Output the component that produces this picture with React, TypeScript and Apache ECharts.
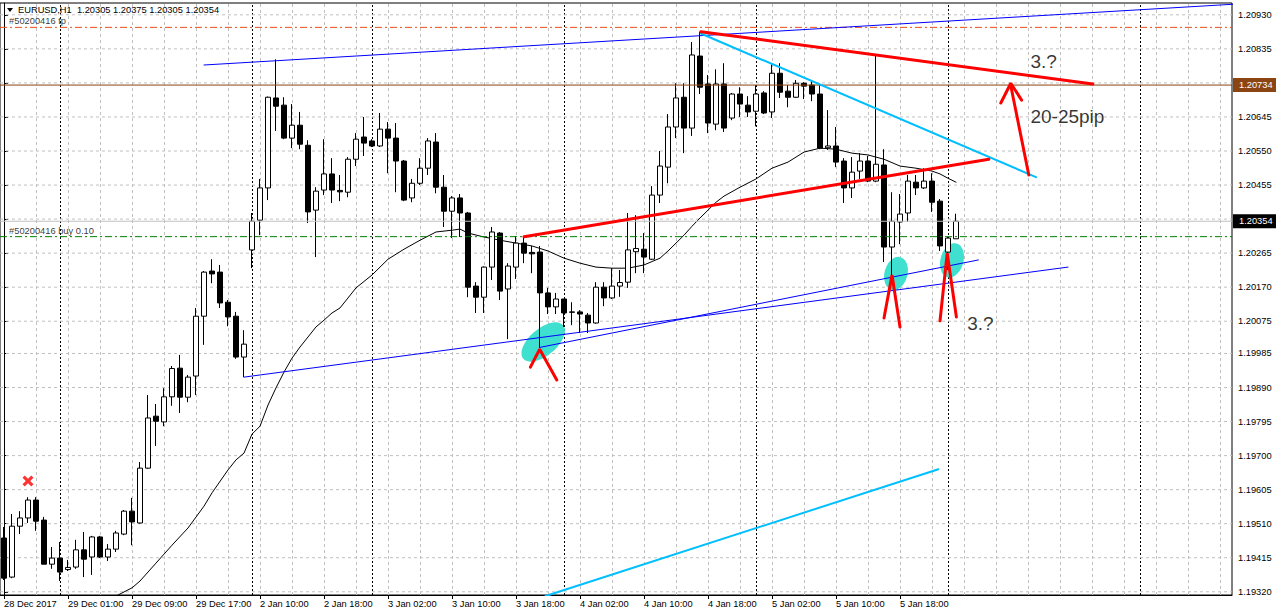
import React, { useEffect, useRef } from 'react';
import * as echarts from 'echarts';

// ---------- time categories (H1 bars) ----------
const SESSIONS = [
  { day: 28, mon: 'Dec', from: 17, to: 23 },
  { day: 29, mon: 'Dec', from: 0, to: 23 },
  { day: 2, mon: 'Jan', from: 9, to: 23 },
  { day: 3, mon: 'Jan', from: 0, to: 23 },
  { day: 4, mon: 'Jan', from: 0, to: 23 },
  { day: 5, mon: 'Jan', from: 0, to: 23 },
  { day: 6, mon: 'Jan', from: 0, to: 23 },
  { day: 7, mon: 'Jan', from: 0, to: 23 },
];
const BAR_COUNT = 154;
const FIRST_LABEL = '28 Dec 2017';
const LAST_LABELED_BAR = 112;

// ---------- price axis ----------
const TICK_LABELS = ['1.19320', '1.19415', '1.19510', '1.19605', '1.19700', '1.19795', '1.19890', '1.19985', '1.20075', '1.20170', '1.20265', '1.20360', '1.20455', '1.20550', '1.20645', '1.20740', '1.20835', '1.20930'];
const Y_MIN = 1.19311;
const Y_MAX = 1.20963;

// ---------- OHLC ----------
const OPEN = [1.19470, 1.19361, 1.19503, 1.19526, 1.19576, 1.19520, 1.19397, 1.19414, 1.19382, 1.19389, 1.19437, 1.19417, 1.19473, 1.19417, 1.19439, 1.19481, 1.19545, 1.19512, 1.19665, 1.19810, 1.19794, 1.19864, 1.19944, 1.19863, 1.19922, 1.20089, 1.20215, 1.20212, 1.20128, 1.20089, 1.19975, 1.20274, 1.20357, 1.20447, 1.20698, 1.20678, 1.20586, 1.20622, 1.20566, 1.20385, 1.20441, 1.20486, 1.20440, 1.20435, 1.20527, 1.20589, 1.20578, 1.20564, 1.20611, 1.20586, 1.20522, 1.20419, 1.20460, 1.20502, 1.20575, 1.20449, 1.20382, 1.20419, 1.20377, 1.20173, 1.20142, 1.20226, 1.20321, 1.20165, 1.20226, 1.20293, 1.20267, 1.20268, 1.20154, 1.20115, 1.20137, 1.20101, 1.20101, 1.20092, 1.20070, 1.20170, 1.20140, 1.20173, 1.20184, 1.20269, 1.20276, 1.20248, 1.20427, 1.20505, 1.20617, 1.20700, 1.20614, 1.20815, 1.20737, 1.20625, 1.20737, 1.20642, 1.20709, 1.20678, 1.20661, 1.20712, 1.20659, 1.20767, 1.20717, 1.20700, 1.20739, 1.20734, 1.20709, 1.20559, 1.20564, 1.20522, 1.20447, 1.20494, 1.20522, 1.20466, 1.20511, 1.20282, 1.20352, 1.20377, 1.20463, 1.20447, 1.20466, 1.20410, 1.20268, 1.20305];
const HIGH = [1.19501, 1.19537, 1.19545, 1.19584, 1.19584, 1.19529, 1.19445, 1.19459, 1.19409, 1.19465, 1.19487, 1.19476, 1.19476, 1.19453, 1.19490, 1.19548, 1.19582, 1.19682, 1.19869, 1.19844, 1.19888, 1.19950, 1.19981, 1.19925, 1.20112, 1.20215, 1.20248, 1.20232, 1.20134, 1.20101, 1.20050, 1.20377, 1.20472, 1.20702, 1.20806, 1.20700, 1.20681, 1.20659, 1.20580, 1.20449, 1.20583, 1.20530, 1.20483, 1.20533, 1.20600, 1.20645, 1.20583, 1.20656, 1.20631, 1.20628, 1.20525, 1.20472, 1.20530, 1.20586, 1.20600, 1.20483, 1.20424, 1.20430, 1.20380, 1.20184, 1.20228, 1.20338, 1.20324, 1.20237, 1.20313, 1.20310, 1.20285, 1.20285, 1.20168, 1.20154, 1.20137, 1.20128, 1.20106, 1.20098, 1.20184, 1.20184, 1.20223, 1.20218, 1.20377, 1.20371, 1.20321, 1.20452, 1.20550, 1.20653, 1.20739, 1.20739, 1.20854, 1.20882, 1.20762, 1.20778, 1.20795, 1.20712, 1.20728, 1.20703, 1.20734, 1.20717, 1.20792, 1.20795, 1.20734, 1.20748, 1.20742, 1.20748, 1.20737, 1.20664, 1.20617, 1.20530, 1.20533, 1.20544, 1.20536, 1.20818, 1.20555, 1.20435, 1.20430, 1.20483, 1.20483, 1.20502, 1.20488, 1.20416, 1.20310, 1.20375];
const LOW = [1.19353, 1.19358, 1.19481, 1.19512, 1.19490, 1.19397, 1.19384, 1.19350, 1.19378, 1.19384, 1.19361, 1.19367, 1.19414, 1.19406, 1.19431, 1.19478, 1.19450, 1.19510, 1.19663, 1.19727, 1.19782, 1.19839, 1.19819, 1.19849, 1.19869, 1.20009, 1.20181, 1.20112, 1.20061, 1.19970, 1.19919, 1.20223, 1.20315, 1.20413, 1.20606, 1.20583, 1.20558, 1.20555, 1.20349, 1.20254, 1.20427, 1.20405, 1.20410, 1.20421, 1.20508, 1.20536, 1.20561, 1.20561, 1.20488, 1.20435, 1.20410, 1.20407, 1.20455, 1.20483, 1.20432, 1.20338, 1.20307, 1.20310, 1.20142, 1.20098, 1.20098, 1.20190, 1.20134, 1.20025, 1.20193, 1.20237, 1.20209, 1.20000, 1.20095, 1.20095, 1.20059, 1.20064, 1.20042, 1.20042, 1.20068, 1.20117, 1.20137, 1.20143, 1.20168, 1.20209, 1.20209, 1.20246, 1.20405, 1.20460, 1.20586, 1.20544, 1.20592, 1.20709, 1.20600, 1.20608, 1.20603, 1.20636, 1.20645, 1.20645, 1.20619, 1.20653, 1.20642, 1.20698, 1.20672, 1.20698, 1.20695, 1.20689, 1.20555, 1.20553, 1.20505, 1.20405, 1.20419, 1.20472, 1.20463, 1.20463, 1.20240, 1.20181, 1.20290, 1.20352, 1.20427, 1.20444, 1.20380, 1.20271, 1.20218, 1.20305];
const CLOSE = [1.19358, 1.19503, 1.19526, 1.19576, 1.19517, 1.19397, 1.19414, 1.19375, 1.19388, 1.19437, 1.19411, 1.19473, 1.19417, 1.19439, 1.19484, 1.19545, 1.19515, 1.19665, 1.19805, 1.19796, 1.19864, 1.19943, 1.19863, 1.19919, 1.20089, 1.20212, 1.20207, 1.20126, 1.20087, 1.19975, 1.20011, 1.20354, 1.20447, 1.20700, 1.20675, 1.20586, 1.20622, 1.20569, 1.20380, 1.20438, 1.20486, 1.20441, 1.20436, 1.20527, 1.20583, 1.20572, 1.20564, 1.20611, 1.20586, 1.20522, 1.20413, 1.20460, 1.20502, 1.20578, 1.20449, 1.20382, 1.20419, 1.20377, 1.20170, 1.20142, 1.20226, 1.20324, 1.20159, 1.20229, 1.20293, 1.20265, 1.20263, 1.20154, 1.20115, 1.20137, 1.20098, 1.20100, 1.20095, 1.20070, 1.20170, 1.20140, 1.20173, 1.20183, 1.20274, 1.20278, 1.20254, 1.20427, 1.20508, 1.20617, 1.20698, 1.20614, 1.20818, 1.20728, 1.20628, 1.20737, 1.20614, 1.20709, 1.20681, 1.20659, 1.20709, 1.20656, 1.20767, 1.20714, 1.20700, 1.20739, 1.20731, 1.20709, 1.20558, 1.20564, 1.20519, 1.20447, 1.20491, 1.20522, 1.20466, 1.20513, 1.20282, 1.20354, 1.20374, 1.20466, 1.20447, 1.20466, 1.20407, 1.20285, 1.20307, 1.20354];

// moving average readings [bar, price]
const MA_POINTS = [[13, 1.19294], [14, 1.19308], [16, 1.19331], [17, 1.19350], [19, 1.19400], [21, 1.19450], [23, 1.19498], [25, 1.19559], [26, 1.19596], [28, 1.19660], [29, 1.19688], [30, 1.19707], [31, 1.19760], [32, 1.19782], [33, 1.19841], [34, 1.19889], [35, 1.19933], [36, 1.19972], [37, 1.20003], [38, 1.20031], [39, 1.20059], [40, 1.20078], [41, 1.20098], [42, 1.20112], [44, 1.20168], [46, 1.20204], [48, 1.20248], [50, 1.20276], [52, 1.20301], [54, 1.20324], [56, 1.20329], [57, 1.20332], [58, 1.20321], [60, 1.20310], [62, 1.20301], [64, 1.20293], [66, 1.20285], [68, 1.20271], [70, 1.20251], [72, 1.20237], [74, 1.20226], [76, 1.20223], [78, 1.20223], [80, 1.20232], [82, 1.20251], [83, 1.20271], [84, 1.20293], [85, 1.20315], [86, 1.20340], [87, 1.20363], [88, 1.20385], [89, 1.20407], [90, 1.20424], [92, 1.20449], [94, 1.20472], [96, 1.20502], [98, 1.20519], [100, 1.20547], [102, 1.20558], [104, 1.20555], [106, 1.20544], [108, 1.20539], [110, 1.20527], [112, 1.20508], [114, 1.20502], [116, 1.20494], [117, 1.20486], [118, 1.20474], [119, 1.20463]];

// horizontal price levels
const TP_LEVEL = 1.20895;
const LEVEL_LINE = 1.20734;
const BID_LEVEL = 1.20354;
const BUY_LEVEL = 1.20311;
const TP_TEXT = '#50200416 tp';
const BUY_TEXT = '#50200416 buy 0.10';
const TITLE_TEXT = 'EURUSD,H1  1.20305 1.20375 1.20305 1.20354';

// drawn objects, [bar, price]
const BLUE_TOP = [[25, 1.20790], [154, 1.20960]];
const BLUE_A = [[30, 1.19919], [133, 1.20226]];
const BLUE_B = [[67, 1.20002], [121.8, 1.20246]];
const RED_LOW = [[65, 1.20311], [123.1, 1.20527]];
const RED_HIGH = [[87.1, 1.20883], [136.1, 1.20737]];
const CYAN_HIGH = [[87.1, 1.20878], [129, 1.20477]];
const CYAN_LOW = [[67.7, 1.19308], [116.8, 1.19662]];
const ARROW_SHAFT = [[128.1, 1.20483], [125.85, 1.20732]];
const ARROW_HEAD = [[124.6, 1.20684], [125.85, 1.20739], [127.2, 1.20692]];
const CHEVRONS = [
  [[65.8, 1.19947], [66.96, 1.19997], [69.1, 1.19911]],
  [[110, 1.20084], [111.0, 1.20204], [112, 1.20059]],
  [[117.0, 1.20076], [117.9, 1.20265], [119.05, 1.20087]],
];
const ELLIPSE_CENTERS = [[67.4, 1.20017], [111.5, 1.20208], [118.5, 1.20245]];
const CROSS_POINT = [3, 1.19629];
const NOTE_POINTS = [[128.3, 1.20799], [128.3, 1.20646], [120.4, 1.20070]];
const NOTE_TEXTS = ['3.?', '20-25pip', '3.?'];

// styles (kept out of data)
const ELLIPSE_SIZES = [[52, 27], [23, 34], [23, 35]];
const ELLIPSE_ROTATE = [40, -15, -15];
const FONT = "'Liberation Sans', Arial, sans-serif";
const FS = 9.3;
const X_LEFT = -0.5;
const X_RIGHT = BAR_COUNT - 0.5;

function buildCategories(): string[] {
  const out: string[] = [];
  for (const s of SESSIONS) {
    for (let h = s.from; h <= s.to; h++) {
      if (out.length >= BAR_COUNT) return out;
      out.push(`${s.day} ${s.mon} ${h < 10 ? '0' + h : h}:00`);
    }
  }
  return out;
}

export default function App() {
  const ref = useRef<HTMLDivElement>(null);
  useEffect(() => {
    if (!ref.current) return;
    const chart = echarts.init(ref.current, null, { renderer: 'svg' });
    const cats = buildCategories();
    const dayOf = (c: string) => c.split(' ').slice(0, 2).join(' ');
    const separators: number[] = [];
    for (let i = 1; i < cats.length; i++) if (dayOf(cats[i]) !== dayOf(cats[i - 1])) separators.push(i);
    const tickValues = TICK_LABELS.map(Number);

    const vMarks: any[] = [];
    for (let i = 4; i < BAR_COUNT; i += 4) vMarks.push({ xAxis: i });
    separators.forEach((i) => vMarks.push({ xAxis: i, lineStyle: { color: '#000', type: [2, 2], width: 1 } }));

    const trend = (data: any[], color: string, width: number, z = 3) => ({
      type: 'line', xAxisIndex: 1, yAxisIndex: 0, data, symbol: 'none', showSymbol: false,
      lineStyle: { color, width, cap: 'round' }, z, silent: true,
    });

    const hLine = (v: number, color: string, type: any, z: number, extra: any = {}) => ({
      type: 'line', xAxisIndex: 1, yAxisIndex: 0, data: [[X_LEFT, v], [X_RIGHT, v]],
      symbol: 'none', showSymbol: false, silent: true, z, clip: false,
      lineStyle: { color, type, width: 1 }, ...extra,
    });

    const sideLabel = (text: string, bg: string) => ({
      endLabel: {
        show: true, formatter: text, backgroundColor: bg, color: '#fff',
        fontSize: FS, fontFamily: FONT, padding: [3, 4, 2, 6], distance: 1,
      },
    });

    const option: any = {
      animation: false,
      grid: { left: 0, top: 3, width: 1232, height: 592, show: true, borderColor: '#000', borderWidth: 1, backgroundColor: '#fff' },
      xAxis: [
        {
          type: 'category', data: cats, boundaryGap: true,
          axisLine: { show: true, lineStyle: { color: '#000', width: 1 } },
          axisTick: { show: true, alignWithLabel: true, length: 4, interval: (i: number) => i % 8 === 0 && i <= LAST_LABELED_BAR, lineStyle: { color: '#000' } },
          axisLabel: {
            interval: (i: number) => i % 8 === 0 && i <= LAST_LABELED_BAR,
            align: 'left', margin: 4, color: '#000', fontSize: FS, fontFamily: FONT,
            formatter: (v: string, i: number) => (i === 0 ? FIRST_LABEL : v),
          },
          splitLine: { show: false },
        },
        { type: 'value', min: X_LEFT, max: X_RIGHT, show: false },
      ],
      yAxis: {
        type: 'value', position: 'right', min: Y_MIN, max: Y_MAX, scale: true,
        axisLine: { show: true, lineStyle: { color: '#000', width: 1 } },
        axisTick: { show: true, length: 4, customValues: tickValues, lineStyle: { color: '#000' } },
        axisLabel: { customValues: tickValues, formatter: (v: number) => v.toFixed(5), margin: 6, color: '#000', fontSize: FS, fontFamily: FONT },
        splitLine: { show: false },
      },
      graphic: [
        { type: 'polygon', shape: { points: [[7, 8], [13, 8], [10, 12]] }, style: { fill: '#000' }, z: 10 },
        { type: 'text', left: 18, top: 5, style: { text: TITLE_TEXT, fill: '#000', font: `${FS}px ${FONT}` }, z: 10 },
      ],
      series: [
        // vertical grid + day separators
        {
          type: 'line', xAxisIndex: 1, yAxisIndex: 0, data: [], silent: true, z: 1,
          markLine: {
            silent: true, symbol: 'none', z: 1, animation: false, label: { show: false },
            lineStyle: { color: '#c0c0c0', type: [3, 3], width: 1 },
            data: vMarks,
          },
        },
        // horizontal grid
        ...tickValues.map((v) => hLine(v, '#c0c0c0', [3, 3], 1)),
        {
          type: 'scatter', xAxisIndex: 1, yAxisIndex: 0, z: 1, silent: true, symbol: 'circle',
          itemStyle: { color: '#40E0D0', opacity: 1 },
          data: ELLIPSE_CENTERS.map((c, i) => ({ value: c, symbolSize: ELLIPSE_SIZES[i], symbolRotate: ELLIPSE_ROTATE[i] })),
        },
        {
          type: 'candlestick', xAxisIndex: 0, yAxisIndex: 0, z: 2, silent: true, barWidth: 5,
          data: OPEN.map((o, i) => [o, CLOSE[i], LOW[i], HIGH[i]]),
          itemStyle: { color: '#ffffff', color0: '#000000', borderColor: '#000000', borderColor0: '#000000', borderWidth: 1 },
        },
        trend(MA_POINTS, '#000000', 1, 2),
        // price levels
        hLine(TP_LEVEL, '#E8501A', [7, 3, 2, 3], 3),
        hLine(LEVEL_LINE, '#8B4513', 'solid', 3, sideLabel(LEVEL_LINE.toFixed(5), '#8B4513')),
        hLine(BID_LEVEL, '#c0c0c0', 'solid', 3, sideLabel(BID_LEVEL.toFixed(5), '#000')),
        hLine(BUY_LEVEL, '#008000', [7, 3, 2, 3], 3),
        {
          type: 'scatter', xAxisIndex: 1, yAxisIndex: 0, z: 4, silent: true, symbolSize: 0.1,
          itemStyle: { color: 'rgba(0,0,0,0)' },
          label: { show: true, position: 'right', distance: 0, offset: [0, -6], fontSize: FS, color: '#000', fontFamily: FONT },
          data: [
            { value: [X_LEFT + 9 / 8, TP_LEVEL], label: { formatter: TP_TEXT } },
            { value: [X_LEFT + 9 / 8, BUY_LEVEL], label: { formatter: BUY_TEXT } },
          ],
        },
        trend(BLUE_TOP, '#0000ff', 1),
        trend(BLUE_A, '#0000ff', 1),
        trend(BLUE_B, '#0000ff', 1),
        trend(CYAN_HIGH, '#00BFFF', 2),
        trend(CYAN_LOW, '#00BFFF', 2),
        trend(RED_HIGH, '#ff0000', 3),
        trend(RED_LOW, '#ff0000', 3),
        trend(ARROW_SHAFT, '#ff0000', 3),
        trend(ARROW_HEAD, '#ff0000', 3),
        ...CHEVRONS.map((c) => trend(c, '#ff0000', 3)),
        {
          type: 'scatter', xAxisIndex: 1, yAxisIndex: 0, z: 4, silent: true,
          symbol: 'path://M0,2 L2,0 L5,3 L8,0 L10,2 L7,5 L10,8 L8,10 L5,7 L2,10 L0,8 L3,5 Z',
          symbolSize: 11, itemStyle: { color: '#ff0000' }, data: [CROSS_POINT],
        },
        {
          type: 'scatter', xAxisIndex: 1, yAxisIndex: 0, z: 4, silent: true, symbolSize: 0.1,
          itemStyle: { color: 'rgba(0,0,0,0)' },
          label: { show: true, position: 'right', distance: 0, fontSize: 19, color: '#000', fontFamily: FONT },
          data: NOTE_POINTS.map((p, i) => ({ value: p, label: { formatter: NOTE_TEXTS[i] } })),
        },
      ],
    };
    chart.setOption(option);
    return () => chart.dispose();
  }, []);
  return <div ref={ref} style={{ position: 'fixed', left: 0, top: 0, width: 1276, height: 616, background: '#fff' }} />;
}
